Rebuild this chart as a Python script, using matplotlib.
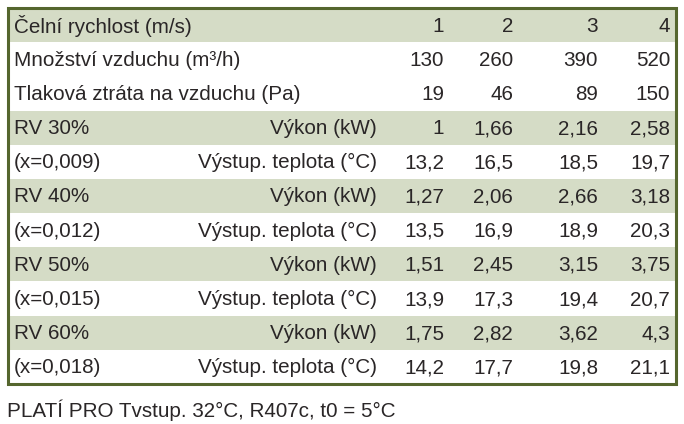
import matplotlib
matplotlib.use("Agg")
import matplotlib.pyplot as plt
from matplotlib.patches import Rectangle

plt.rcParams['font.family'] = ['Liberation Sans', 'DejaVu Sans']

# header rows
speeds = ['1', '2', '3', '4']
airflow = ['130', '260', '390', '520']
pressure = ['19', '46', '89', '150']

# RV blocks
rv_labels = ['RV 30%', 'RV 40%', 'RV 50%', 'RV 60%']
x_labels = ['(x=0,009)', '(x=0,012)', '(x=0,015)', '(x=0,018)']
power = [['1', '1,66', '2,16', '2,58'],
         ['1,27', '2,06', '2,66', '3,18'],
         ['1,51', '2,45', '3,15', '3,75'],
         ['1,75', '2,82', '3,62', '4,3']]
temp_out = [['13,2', '16,5', '18,5', '19,7'],
            ['13,5', '16,9', '18,9', '20,3'],
            ['13,9', '17,3', '19,4', '20,7'],
            ['14,2', '17,7', '19,8', '21,1']]

footer = 'PLATÍ PRO Tvstup. 32°C, R407c, t0 = 5°C'

W, H = 684, 424
fig = plt.figure(figsize=(W / 100, H / 100), dpi=100)
ax = fig.add_axes([0, 0, 1, 1])
ax.set_xlim(0, W)
ax.set_ylim(H, 0)
ax.axis('off')

shade = '#d5dcc6'
border = '#55662e'
txt = '#2a2627'
fs = 14.9

left, right = 8, 676
top, bottom = 8, 384
n_rows = 11
rh = (bottom - top) / n_rows
num_x = [444, 513, 598, 670]

rows = [('Čelní rychlost (m/s)', '', speeds, True),
        ('Množství vzduchu (m³/h)', '', airflow, False),
        ('Tlaková ztráta na vzduchu (Pa)', '', pressure, False)]
for i in range(len(rv_labels)):
    rows.append((rv_labels[i], 'Výkon (kW)', power[i], True))
    rows.append((x_labels[i], 'Výstup. teplota (°C)', temp_out[i], False))

for r, (lab, mid, vals, shaded) in enumerate(rows):
    y0 = top + r * rh
    if shaded:
        ax.add_patch(Rectangle((left, y0), right - left, rh, color=shade, lw=0))
    yc = y0 + rh / 2 + 1
    ax.text(14, yc, lab, fontsize=fs, color=txt, va='center', ha='left')
    if mid:
        ax.text(377, yc, mid, fontsize=fs, color=txt, va='center', ha='right')
    for x, v in zip(num_x, vals):
        ax.text(x, yc, v, fontsize=fs, color=txt, va='center', ha='right')

ax.add_patch(Rectangle((left, top), right - left, bottom - top, fill=False,
                       ec=border, lw=2.2))

ax.text(7, 410, footer, fontsize=fs, color=txt, va='center', ha='left')

fig.savefig('out.png', dpi=100)
